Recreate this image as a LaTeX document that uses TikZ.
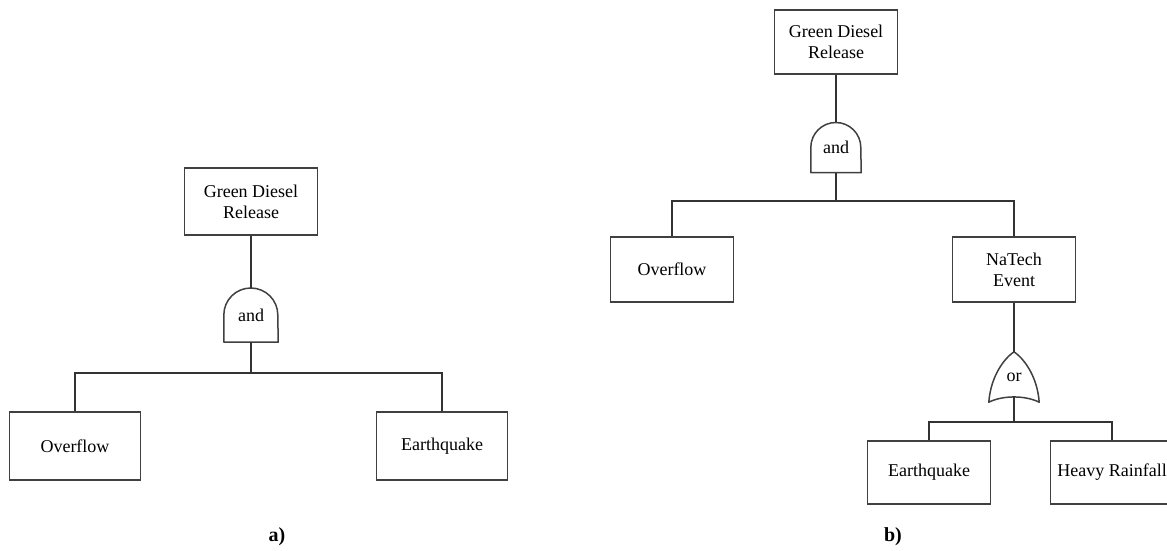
\documentclass[tikz,border=0pt]{standalone}
\usepackage{fontspec}
\setmainfont{Liberation Serif}
\begin{document}
\begin{tikzpicture}[x=1pt,y=-1pt,
  every node/.style={font=\fontsize{18}{21}\selectfont, text=black},
  event/.style={draw=black!75, line width=1.5pt, fill=white, align=center,
    inner sep=0pt},
  gatebox/.style={inner sep=0pt, minimum width=#1, minimum height=#1},
  gateline/.style={draw=black!75, line width=1.5pt, line join=round},
  link/.style={draw=black!80, line width=1.5pt},
  caption/.style={font=\fontsize{20}{24}\selectfont\bfseries}]
\useasboundingbox (0,0) rectangle (1167,551);
\clip (0,0) rectangle (1167,551);

% ---------- tree a) ----------
\node[event, minimum width=133pt, minimum height=67pt] (topA) at (251,201.5) {Green Diesel\\Release};
\node[gatebox=54pt] (andA) at (251,315) {and};
\draw[gateline] (andA.south west) -- (andA.west)
  arc[start angle=180, end angle=0, radius=27pt] -- (andA.south east) -- cycle;
\node[event, minimum width=131pt, minimum height=68pt] (ovA) at (75,446) {Overflow};
\node[event, minimum width=131pt, minimum height=68pt] (eqA) at (442,446) {Earthquake};
\coordinate (busA) at (251,373);
\draw[link] (topA.south) -- (andA.north);
\draw[link] (andA.south) -- (busA);
\draw[link] (ovA.north) |- (busA) -| (eqA.north);
\node[caption] (capA) at (277,537) {a)};

% ---------- tree b) ----------
\node[event, minimum width=123pt, minimum height=64pt] (topB) at (836,42) {Green Diesel\\Release};
\node[gatebox=50pt] (andB) at (836,147.5) {and};
\draw[gateline] (andB.south west) -- (andB.west)
  arc[start angle=180, end angle=0, radius=25pt] -- (andB.south east) -- cycle;
\node[event, minimum width=123pt, minimum height=65pt] (ovB) at (672,269.5) {Overflow};
\node[event, minimum width=123pt, minimum height=65pt] (natB) at (1014,269.5) {NaTech\\Event};
\coordinate (busB) at (836,201);
\draw[link] (topB.south) -- (andB.north);
\draw[link] (andB.south) -- (busB);
\draw[link] (ovB.north) |- (busB) -| (natB.north);

\node[gatebox=50pt] (orB) at (1014,377) {or};
\draw[gateline] (orB.south west)
  .. controls +(2pt,27pt) and +(-9pt,-6pt) .. (orB.north)
  .. controls +(9pt,-6pt) and +(-2pt,27pt) .. (orB.south east)
  .. controls +(-14pt,7pt) and +(14pt,7pt) .. (orB.south west) -- cycle;
\node[event, minimum width=123pt, minimum height=63pt] (eqB) at (929,472.5) {Earthquake};
\node[event, minimum width=123pt, minimum height=63pt] (rainB) at (1112,472.5) {Heavy Rainfall};
\coordinate (busC) at (1014,422);
\coordinate (orBot) at (1014,396);
\draw[link] (natB.south) -- (orB.north);
\draw[link] (orBot) -- (busC);
\draw[link] (eqB.north) |- (busC) -| (rainB.north);
\node[caption] (capB) at (893,537) {b)};
\end{tikzpicture}
\end{document}
